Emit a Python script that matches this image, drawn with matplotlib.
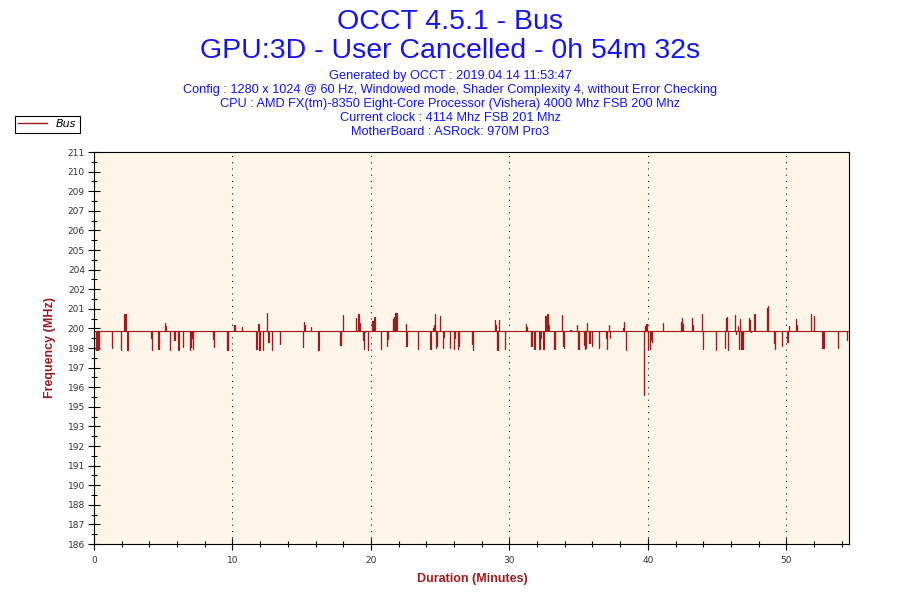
import matplotlib
matplotlib.use("Agg")
import matplotlib.pyplot as plt
from matplotlib.ticker import MultipleLocator, FixedLocator

# bus frequency samples
duration = 54.53          # minutes (0h 54m 32s)
base = 199.56             # steady bus frequency (MHz)

# (minute, MHz) for every sample that leaves the base line
spike_t = [0.12, 0.2, 0.28, 0.36, 1.27, 1.95, 2.19, 2.26, 2.4, 4.13, 4.18, 4.63, 4.7,
           5.14, 5.21, 5.48, 5.79, 5.85, 6.1, 6.44, 6.92, 7.0, 7.1, 7.16, 8.6, 8.67,
           9.6, 9.66, 10.1, 10.17, 10.7, 11.72, 11.78, 11.87, 11.94, 12.18, 12.49,
           12.55, 12.6, 12.85, 13.4, 15.08, 15.15, 15.22, 15.68, 16.2, 17.75, 17.82,
           18.0, 18.9, 19.1, 19.18, 19.4, 19.5, 19.58, 19.8, 20.08, 20.15, 20.25,
           20.72, 21.15, 21.22, 21.6, 21.68, 21.76, 21.84, 22.5, 22.57, 23.4, 24.3,
           24.5, 24.55, 24.6, 24.68, 24.75, 25.0, 25.18, 25.24, 25.7, 26.0, 26.06,
           26.3, 26.37, 27.3, 27.37, 28.95, 29.02, 29.1, 29.17, 29.24, 29.7,
           31.2, 31.27, 31.55, 31.62, 31.8, 32.16, 32.23, 32.3, 32.45, 32.6, 32.67,
           32.75, 32.82, 33.2, 33.27, 33.8, 33.87, 33.94, 34.4, 34.9, 34.97, 35.04,
           35.4, 35.47, 35.54, 35.6, 35.75, 35.82, 35.95, 36.45, 36.95, 37.05, 37.18,
           37.25, 38.2, 38.27, 38.4, 39.7, 39.78, 39.85, 39.92, 40.0, 40.15, 40.22,
           40.3, 41.1, 42.4, 42.47, 42.54, 43.2, 43.27, 43.9, 43.96, 44.9, 45.58,
           45.65, 45.72, 45.8, 46.3, 46.37, 46.5, 46.6, 46.67, 46.74, 46.81, 46.88,
           47.3, 47.37, 47.43, 47.7, 48.6, 48.67, 49.1, 49.17, 49.7, 50.07, 50.2,
           50.7, 50.77, 51.76, 52.0, 52.6, 52.67, 53.7, 54.4]
spike_v = [198.35, 198.35, 198.35, 198.41, 198.52, 198.39, 200.64, 200.64, 198.35, 199.16,
           198.39, 198.41, 198.41, 200.08, 199.91, 198.35, 199.02, 199.02, 198.39, 198.54,
           198.35, 198.56, 199.16, 198.41, 199.08, 198.54, 198.39, 198.39, 199.96, 199.96,
           199.87, 198.41, 198.41, 200.02, 198.35, 198.39, 200.71, 198.91, 198.91, 198.39,
           198.77, 198.56, 200.19, 199.98, 199.87, 198.35, 198.66, 198.66, 200.58, 200.44,
           200.64, 200.08, 199.02, 198.41, 199.5, 198.35, 200.23, 200.23, 200.5,
           198.41, 198.62, 199.08, 200.37, 200.5, 200.71, 200.71, 200.02, 198.6, 198.41,
           198.41, 199.77, 199.96, 200.64, 198.5, 198.62, 200.54, 198.5, 199.23, 198.5,
           198.41, 199.14, 198.46, 198.62, 198.73, 198.35, 200.27, 199.96, 198.35, 198.35,
           200.27, 198.41, 200.02, 199.87, 198.6, 198.6, 198.41, 198.41, 199.14, 199.14,
           198.41, 200.54, 199.98, 200.64, 199.96, 198.41, 198.41, 200.58, 198.6, 198.5,
           199.66, 199.96, 198.41, 198.41, 198.71, 198.41, 198.5, 200.12, 198.81, 198.81,
           198.6, 198.52, 199.14, 198.41, 199.96, 199.14, 199.75, 200.19, 198.35, 195.5,
           199.91, 200.02, 200.06, 198.35, 198.41, 198.98, 198.87, 200.12, 200.19, 200.44,
           200.06, 200.39, 199.96, 200.64, 198.41, 198.35, 198.52, 200.39, 200.48, 198.35,
           200.58, 199.39, 199.91, 198.41, 200.33, 198.41, 198.41, 198.46, 200.39, 200.27,
           199.5, 200.64, 201.02, 201.16, 198.81, 198.41, 198.6, 198.87, 199.91, 200.33,
           199.96, 200.64, 200.54, 198.52, 198.52, 198.5, 199.04]

y_ticks = [186 + 1.25 * k for k in range(21)]
y_labels = ['186', '187', '188', '190', '191', '192', '193', '195', '196', '197', '198',
            '200', '201', '202', '204', '205', '206', '207', '209', '210', '211']

titles = ['OCCT 4.5.1 - Bus', 'GPU:3D - User Cancelled - 0h 54m 32s']
info = ['Generated by OCCT : 2019.04.14 11:53:47',
        'Config : 1280 x 1024 @ 60 Hz, Windowed mode, Shader Complexity 4, without Error Checking',
        'CPU : AMD FX(tm)-8350 Eight-Core Processor (Vishera) 4000 Mhz FSB 200 Mhz',
        'Current clock : 4114 Mhz FSB 201 Mhz',
        'MotherBoard : ASRock: 970M Pro3']

# build the step line: base -> spike -> base for each sample
w = 0.02
xs, ys = [0], [base]
for t, v in sorted(zip(spike_t, spike_v)):
    xs += [t, t, t + w, t + w]
    ys += [base, v, v, base]
xs.append(duration)
ys.append(base)

red = '#a01c1c'
blue = '#1414f0'

fig = plt.figure(figsize=(9, 6), dpi=100)
ax = fig.add_axes([94 / 900, 56 / 600, 755 / 900, 392 / 600])
ax.set_facecolor('#fef7e9')
line, = ax.plot(xs, ys, color=red, linewidth=0.85, label='Bus')

ax.set_xlim(0, duration)
ax.set_ylim(186, 211)
ax.xaxis.set_major_locator(MultipleLocator(10))
ax.xaxis.set_minor_locator(MultipleLocator(2))
ax.yaxis.set_major_locator(FixedLocator(y_ticks))
ax.set_yticklabels(y_labels)
ax.yaxis.set_minor_locator(FixedLocator([y + 0.625 for y in y_ticks[:-1]]))
ax.tick_params(which='major', direction='inout', length=9, width=0.8,
               labelsize=6.5, labelcolor='#333333', pad=2)
ax.tick_params(which='minor', direction='inout', length=5, width=0.8)
ax.tick_params(axis='x', pad=4)
for s in ax.spines.values():
    s.set_linewidth(0.8)
ax.grid(axis='x', which='major', color='black', linestyle=(0, (1, 5)), linewidth=0.75)

for i, t in enumerate(titles):
    fig.text(0.5, 1 - [22, 51][i] / 600, t, ha='center', va='center', color=blue,
             fontsize=20.5, family='Liberation Sans')
for i, t in enumerate(info):
    fig.text(0.5, 1 - (76 + 14 * i) / 600, t, ha='center', va='center', color=blue,
             fontsize=9.2, family='Liberation Sans')

fig.text(50 / 900, 1 - 348 / 600, 'Frequency (MHz)', rotation=90, ha='center', va='center',
         color=red, fontsize=9, fontweight='bold', family='Liberation Sans')
fig.text(472 / 900, 1 - 579 / 600, 'Duration (Minutes)', ha='center', va='center',
         color=red, fontsize=9, fontweight='bold', family='Liberation Sans')

leg = fig.legend(handles=[line], loc='upper left', bbox_to_anchor=(15 / 900, 1 - 116 / 600),
                 borderaxespad=0, fancybox=False, edgecolor='black', framealpha=1,
                 handlelength=2.6, borderpad=0.3, handletextpad=0.8,
                 prop={'size': 8, 'style': 'italic'})
leg.get_frame().set_linewidth(0.8)
leg.get_lines()[0].set_linewidth(1.0)

fig.savefig('out.png', dpi=100)
